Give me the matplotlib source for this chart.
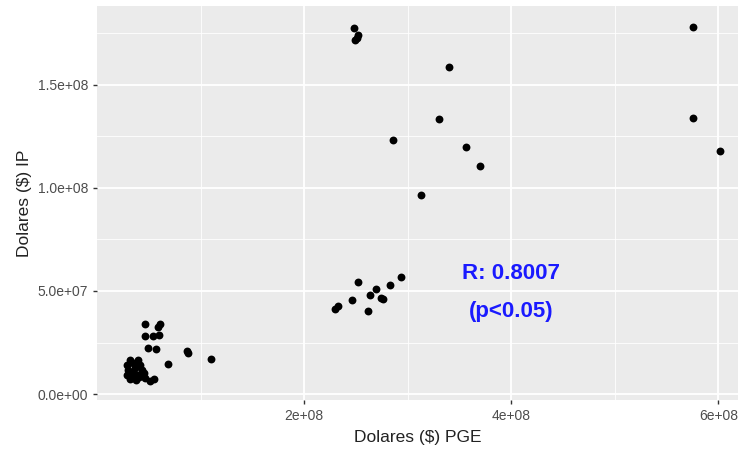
import matplotlib.pyplot as plt
from matplotlib.ticker import FixedLocator

plt.rcParams['font.family'] = ['Liberation Sans', 'DejaVu Sans']

# Data (PGE dollars vs IP dollars)
pge = [2.48e8, 2.52e8, 2.49e8, 2.51e8,
       3.40e8, 3.30e8, 2.86e8, 3.56e8, 3.70e8, 3.13e8,
       5.76e8, 5.76e8, 6.02e8,
       2.52e8, 2.94e8, 2.83e8, 2.69e8, 2.64e8, 2.74e8, 2.46e8,
       2.33e8, 2.30e8, 2.62e8, 2.76e8,
       0.46e8, 0.61e8, 0.59e8, 0.46e8, 0.54e8, 0.60e8, 0.49e8, 0.57e8,
       0.87e8, 0.88e8, 1.10e8, 0.69e8,
       0.32e8, 0.40e8, 0.29e8, 0.35e8, 0.42e8, 0.30e8, 0.37e8, 0.43e8,
       0.29e8, 0.34e8, 0.40e8, 0.45e8, 0.32e8, 0.38e8, 0.46e8, 0.51e8,
       0.55e8, 0.35e8, 0.33e8, 0.41e8]
ip = [17.78e7, 17.43e7, 17.18e7, 17.30e7,
      15.89e7, 13.35e7, 12.33e7, 11.99e7, 11.08e7, 9.66e7,
      17.83e7, 13.41e7, 11.81e7,
      5.42e7, 5.70e7, 5.29e7, 5.11e7, 4.79e7, 4.67e7, 4.56e7,
      4.27e7, 4.11e7, 4.01e7, 4.62e7,
      3.38e7, 3.38e7, 3.24e7, 2.83e7, 2.83e7, 2.86e7, 2.25e7, 2.17e7,
      2.10e7, 2.00e7, 1.68e7, 1.46e7,
      1.65e7, 1.65e7, 1.41e7, 1.49e7, 1.41e7, 1.17e7, 1.25e7, 1.17e7,
      0.92e7, 0.92e7, 0.92e7, 1.00e7, 0.71e7, 0.68e7, 0.76e7, 0.65e7,
      0.71e7, 1.08e7, 0.80e7, 0.85e7]

x_ticks = [2e8, 4e8, 6e8]
x_labels = ["2e+08", "4e+08", "6e+08"]
x_minor = [1e8, 3e8, 5e8]
y_ticks = [0, 5e7, 1e8, 1.5e8]
y_labels = ["0.0e+00", "5.0e+07", "1.0e+08", "1.5e+08"]
y_minor = [2.5e7, 7.5e7, 1.25e8, 1.75e8]

fig = plt.figure(figsize=(7.38, 4.51), dpi=100)
ax = fig.add_axes([97 / 738, 51 / 451, 641 / 738, 394 / 451])
ax.set_facecolor("#EBEBEB")
for s in ax.spines.values():
    s.set_visible(False)

ax.scatter(pge, ip, s=32, color="black", zorder=3, linewidths=0)

ax.set_xlim(0, 6.19e8)
ax.set_ylim(-0.29e7, 18.83e7)

ax.set_xticks(x_ticks)
ax.set_xticklabels(x_labels)
ax.set_yticks(y_ticks)
ax.set_yticklabels(y_labels)
ax.xaxis.set_minor_locator(FixedLocator(x_minor))
ax.yaxis.set_minor_locator(FixedLocator(y_minor))

ax.grid(True, which="major", color="white", linewidth=1.3)
ax.grid(True, which="minor", color="white", linewidth=0.6)
ax.set_axisbelow(True)

ax.tick_params(which="major", length=3, width=1, color="#333333",
               labelcolor="#4D4D4D", labelsize=10)
ax.tick_params(which="minor", length=0)

ax.set_xlabel("Dolares ($) PGE", fontsize=12.5, color="#222222", labelpad=5)
ax.set_ylabel("Dolares ($) IP", fontsize=12.5, color="#222222", labelpad=4)

ax.text(4.0e8, 5.87e7, "R: 0.8007", color="#1A1AFF", fontsize=16,
        fontweight="bold", ha="center", va="center")
ax.text(4.0e8, 4.0e7, "(p<0.05)", color="#1A1AFF", fontsize=16,
        fontweight="bold", ha="center", va="center")

fig.savefig("out.png", dpi=100)
